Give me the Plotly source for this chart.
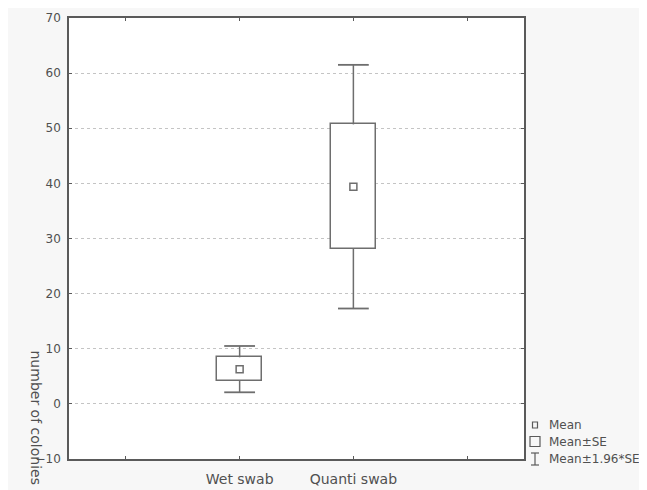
import plotly.graph_objects as go

# ---- data ----
categories = ["Wet swab", "Quanti swab"]
cat_positions = [2, 3]
means = [6.3, 39.4]
se = [2.15, 11.3]
se196 = [4.2, 22.1]
tick_positions = [1, 2, 3, 4]
tick_labels = ["", "Wet swab", "Quanti swab", ""]
y_ticks = [-10, 0, 10, 20, 30, 40, 50, 60, 70]

LINE = "#6e6e6e"
FRAME = "#5a5a5a"
TXT = "#505050"
FONT = "DejaVu Sans, Arial, sans-serif"

# plot frame in figure pixels
L, R, T, B = 61, 516, 10, 451
W, H = 647, 490
PW, PH = R - L, B - T


def px_x(x):
    return (x - L) / PW


def px_y(y):
    return (B - y) / PH


fig = go.Figure()

# Boxes: mean ± SE
fig.add_trace(go.Bar(
    x=cat_positions,
    y=[2 * s for s in se],
    base=[m - s for m, s in zip(means, se)],
    width=0.4,
    marker=dict(color="white", line=dict(color=LINE, width=1.5)),
    showlegend=False, hoverinfo="skip",
))

# Whisker lines: from box edges out to mean ± 1.96*SE
wx, wy = [], []
for x, m, s, a in zip(cat_positions, means, se, se196):
    wx += [x, x, None, x, x, None]
    wy += [m + s, m + a, None, m - s, m - a, None]
fig.add_trace(go.Scatter(
    x=wx, y=wy, mode="lines",
    line=dict(color=LINE, width=1.5),
    showlegend=False, hoverinfo="skip",
))

# Whisker caps
cx, cy = [], []
for x, m, a in zip(cat_positions, means, se196):
    cx += [x, x]
    cy += [m + a, m - a]
fig.add_trace(go.Scatter(
    x=cx, y=cy, mode="markers",
    marker=dict(symbol="line-ew", size=22, line=dict(color=LINE, width=1.8)),
    showlegend=False, hoverinfo="skip",
))

# Mean markers
fig.add_trace(go.Scatter(
    x=cat_positions, y=means, mode="markers",
    marker=dict(symbol="square-open", size=7, color=LINE, line=dict(width=1.5)),
    showlegend=False, hoverinfo="skip",
))

fig.update_layout(
    template="none",
    width=W, height=H,
    margin=dict(l=L, r=W - R, t=T, b=H - B, pad=0),
    paper_bgcolor="#f7f7f7",
    plot_bgcolor="white",
    font=dict(family=FONT, size=12, color=TXT),
    showlegend=False,
    bargap=0,
)

fig.update_xaxes(
    range=[0.5, 4.5],
    tickmode="array", tickvals=tick_positions, ticktext=tick_labels,
    ticks="inside", ticklen=3, tickcolor=FRAME, tickwidth=1,
    showline=True, linecolor=FRAME, linewidth=1.5, mirror="ticks",
    showgrid=False, zeroline=False,
    ticklabelstandoff=6,
    tickfont=dict(family=FONT, size=14, color=TXT),
    automargin=False,
)
fig.update_yaxes(
    range=[-10, 70],
    tickmode="array", tickvals=y_ticks,
    ticks="inside", ticklen=3, tickcolor=FRAME, tickwidth=1,
    showline=True, linecolor=FRAME, linewidth=1.5, mirror="ticks",
    showgrid=True, gridcolor="#c4c4c4", griddash="dot", gridwidth=1,
    zeroline=False,
    ticklabelstandoff=4,
    tickfont=dict(family=FONT, size=12, color=TXT),
    automargin=False,
)

# Y-axis title (reads top to bottom, placed low)
fig.add_annotation(
    text="number of colonies", xref="paper", yref="paper",
    x=px_x(27.5), y=px_y(409),
    textangle=90, showarrow=False,
    font=dict(family=FONT, size=14, color=TXT), xanchor="center", yanchor="middle",
)

# Custom legend
lx = px_x(527)
tx = px_x(539)
rows = [px_y(417), px_y(433.5), px_y(451)]
labels = ["Mean", "Mean±SE", "Mean±1.96*SE"]
for yy, lab in zip(rows, labels):
    fig.add_annotation(text=lab, xref="paper", yref="paper", x=tx, y=yy,
                       xanchor="left", yanchor="middle", showarrow=False,
                       font=dict(family=FONT, size=12, color=TXT))

icon_line = dict(color=FRAME, width=1.2)
# Mean icon: small square
fig.add_shape(type="rect", xref="paper", yref="paper", xsizemode="pixel", ysizemode="pixel",
              xanchor=lx, yanchor=rows[0], x0=-2.5, x1=2.5, y0=-3, y1=3, line=icon_line)
# Mean±SE icon: larger square
fig.add_shape(type="rect", xref="paper", yref="paper", xsizemode="pixel", ysizemode="pixel",
              xanchor=lx, yanchor=rows[1], x0=-5, x1=5, y0=-5, y1=5, line=icon_line)
# Mean±1.96*SE icon: I-beam
for (x0, x1, y0, y1) in [(0, 0, -6, 6), (-4, 4, 6, 6), (-4, 4, -6, -6)]:
    fig.add_shape(type="line", xref="paper", yref="paper", xsizemode="pixel", ysizemode="pixel",
                  xanchor=lx, yanchor=rows[2], x0=x0, x1=x1, y0=y0, y1=y1, line=icon_line)

fig.write_html("out.html")
